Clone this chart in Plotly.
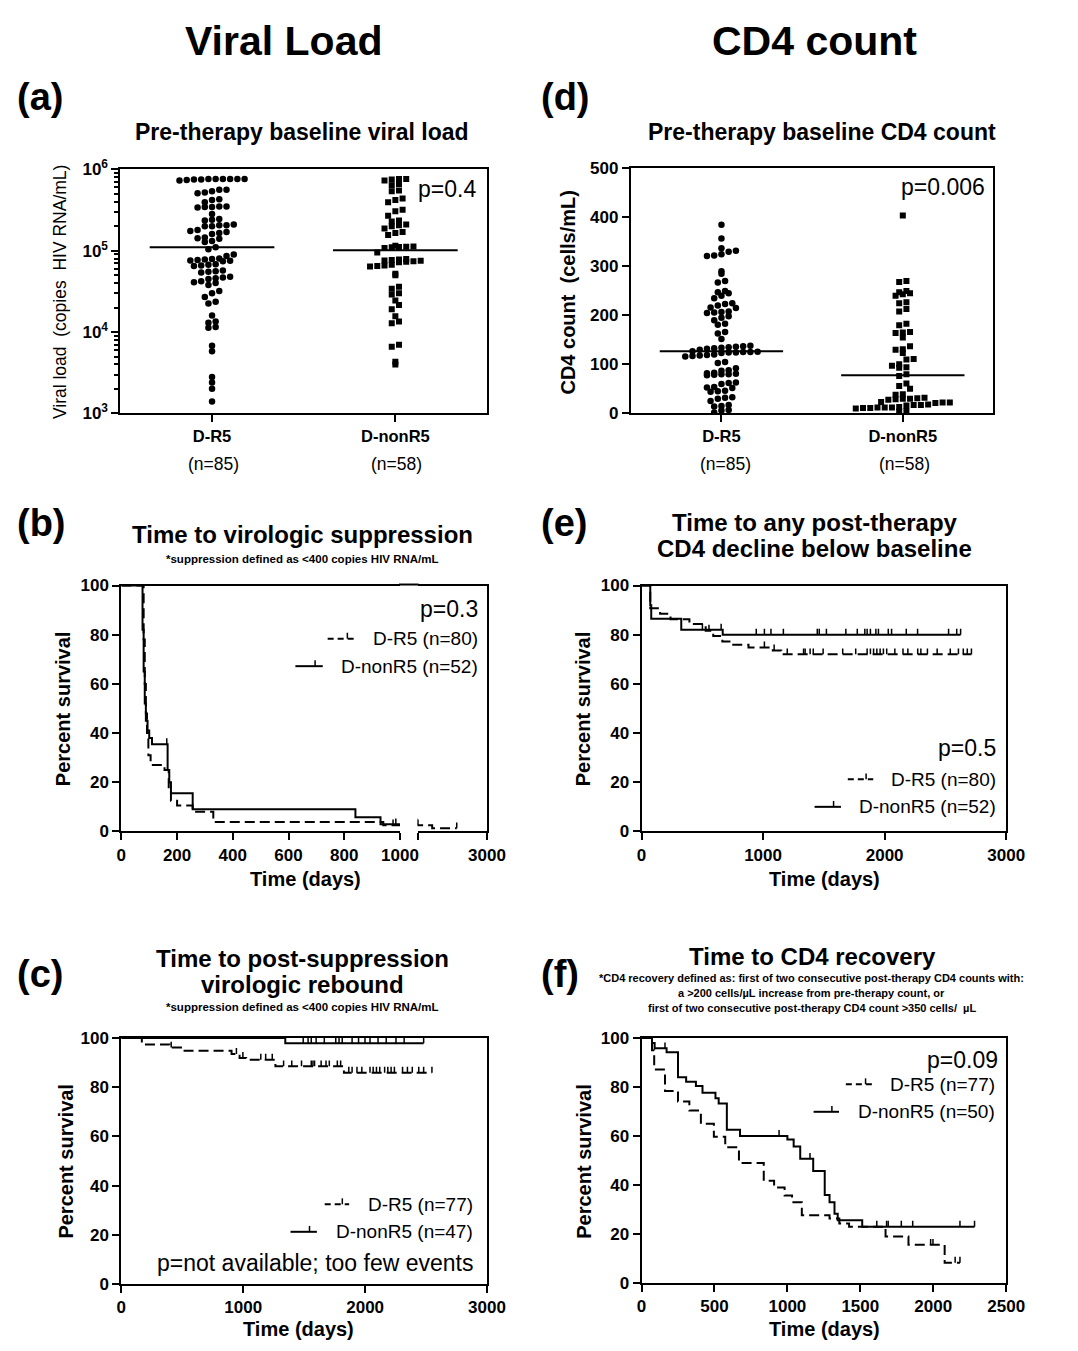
import numpy as np
import plotly.graph_objects as go

W, H = 1078, 1351          # page size (body margin removed in the page script)
FONT = "Liberation Sans, Arial, Helvetica, sans-serif"

# ---------------- data ----------------
categories = ["D-R5", "D-nonR5"]
n_labels = ["(n=85)", "(n=58)"]

viral_load_r5 = [760000, 760000, 760000, 750000, 740000, 730000, 750000, 760000, 760000, 760000,
                 560000, 540000, 520000, 510000, 560000, 430000, 420000, 395000,
                 350000, 345000, 340000, 345000, 350000, 283000, 245000, 235000, 240000,
                 205000, 200000, 205000, 200000, 210000, 180000, 175000, 170000, 165000, 160000,
                 145000, 140000, 142000, 132000, 128000,
                 110000, 104000, 90000, 86000, 80000, 78000, 76000, 75000, 77000, 79000, 74000,
                 68000, 66000, 65000, 67000, 57000, 55000, 56000, 54000, 48000, 46000, 47000, 45000,
                 42000, 40000, 41000, 38000, 32000, 30000, 27000, 23500, 22500, 16000, 13500, 13000,
                 11500, 11300, 6800, 5800, 2800, 2400, 2000, 1400]
viral_load_nr5 = [760000, 760000, 730000, 750000, 660000, 640000, 550000, 540000, 440000, 420000,
                  395000, 320000, 305000, 270000, 235000, 228000, 210000, 205000, 200000, 188000,
                  156000, 170000, 165000, 115000, 112000, 110000, 113000, 108000, 111000,
                  95000, 78000, 76000, 74000, 77000, 75000, 72000, 79000, 73000,
                  66000, 65000, 67000, 64000, 52000, 50000, 36000, 34000, 30000, 29000, 24500,
                  21500, 19000, 15600, 13500, 12800, 7000, 6600, 4300, 4000]
cd4_r5 = [385, 357, 337, 330, 322, 321, 325, 332, 290, 285, 270, 267, 247, 240, 245, 250, 235,
          225, 220, 215, 216, 223, 207, 206, 208, 205, 198, 195, 190, 183, 181, 166, 163, 152,
          137, 135, 133, 136, 134, 130, 132, 138,
          127, 125, 124, 126, 123, 125, 124, 119, 117, 118, 116, 120, 105, 103, 92, 88, 87,
          82, 80, 79, 81, 78, 80, 83, 62, 60, 63, 53, 54, 52, 45, 46, 44, 32, 33, 30, 25,
          15, 14, 17, 7, 6, 2]
cd4_nr5 = [404, 270, 268, 245, 247, 250, 243, 240, 227, 225, 213, 208, 183, 180, 165, 166, 164,
           155, 130, 131, 137, 123, 110, 111, 100, 97, 93, 94, 80,
           76, 61, 56, 50, 39, 38, 31, 30, 29, 30, 32, 28, 23, 22, 21, 22, 17, 18, 16, 17,
           12, 11, 13, 12, 10, 12, 11, 5, 4]
p_vl = "p=0.4"
p_cd4 = "p=0.006"

# Kaplan-Meier curves: step times, survival (%) after each step, censor times
b_r5_time = [0, 80, 84, 88, 92, 97, 105, 155, 170, 178, 200, 256, 330, 940, 1420, 2127]
b_r5_surv = [100, 78, 60, 48, 40, 31, 27, 25, 18, 12.5, 10.5, 8, 3.8, 2.5, 1.25, 1.25]
b_r5_cens = [975, 1010, 2127]
b_nr5_time = [0, 76, 80, 84, 88, 94, 100, 110, 166, 172, 178, 256, 840, 930, 1000]
b_nr5_surv = [100, 82, 65, 52, 45, 41, 38, 35.5, 25, 20, 15.5, 9, 5.8, 2.9, 2.9]
b_nr5_cens = [163, 985]

e_r5_time = [0, 72, 153, 239, 394, 528, 590, 665, 740, 880, 1080, 1150, 2714]
e_r5_surv = [100, 90.8, 88.5, 86.3, 84.3, 81.6, 79.5, 77.2, 75.9, 74.8, 73.6, 72, 72]
e_r5_cens = [555, 1011, 1091, 1199, 1333, 1346, 1387, 1413, 1494, 1655, 1762, 1856, 1883, 1909,
             1936, 1963, 1990, 2017, 2084, 2151, 2191, 2272, 2298, 2352, 2432, 2540, 2607, 2647,
             2680, 2714]
e_nr5_time = [0, 72, 80, 327, 668, 2625]
e_nr5_surv = [100, 92, 86.5, 82, 80, 80]
e_nr5_cens = [501, 655, 944, 1011, 1065, 1167, 1446, 1462, 1521, 1681, 1775, 1837, 1856, 1883,
              1928, 1949, 2030, 2057, 2178, 2271, 2526, 2593, 2625]

c_r5_time = [0, 168, 396, 489, 904, 970, 1024, 1264, 1826, 2548]
c_r5_surv = [100, 97.4, 96.1, 94.8, 93.5, 91.9, 91.2, 88.5, 85.9, 85.9]
c_r5_cens = [409, 944, 997, 1144, 1184, 1238, 1331, 1398, 1478, 1558, 1572, 1585, 1639, 1679,
             1706, 1772, 1799, 1866, 1893, 1933, 1973, 2040, 2066, 2093, 2120, 2160, 2186, 2213,
             2240, 2307, 2347, 2387, 2440, 2480, 2548]
c_nr5_time = [0, 1345, 2480]
c_nr5_surv = [100, 97.9, 97.9]
c_nr5_cens = [329, 583, 783, 802, 913, 992, 1072, 1270, 1281, 1291, 1492, 1532, 1558, 1598, 1665,
              1759, 1786, 1812, 1893, 1946, 1999, 2040, 2106, 2173, 2253, 2320, 2480]

f_r5_time = [0, 72, 87, 161, 250, 328, 407, 496, 574, 668, 838, 909, 981, 1032, 1099, 1289, 1356,
             1423, 1673, 1830, 2078, 2183]
f_r5_surv = [100, 95, 87.1, 78.4, 74.1, 70.4, 65.0, 59.7, 55.4, 49.0, 41.7, 39.0, 35.7, 33.0,
             27.6, 26.3, 24.3, 23.0, 19.0, 15.6, 8.3, 8.3]
f_r5_cens = [1982, 1998, 2150, 2183]
f_nr5_time = [0, 72, 90, 172, 250, 306, 373, 418, 507, 529, 585, 675, 1000, 1043, 1088, 1177, 1256,
              1289, 1323, 1345, 1513, 2283]
f_nr5_surv = [100, 98, 95.8, 94.2, 84.0, 82.1, 80.4, 77.7, 75.4, 73.3, 62.6, 60.0, 58.6, 55.7,
              50.7, 45.7, 35.9, 33.0, 28.3, 25.6, 23.0, 23.0]
f_nr5_cens = [161, 943, 1155, 1613, 1680, 1691, 1781, 1859, 2183, 2283]

legend_b = ["D-R5 (n=80)", "D-nonR5 (n=52)"]
legend_e = ["D-R5 (n=80)", "D-nonR5 (n=52)"]
legend_c = ["D-R5 (n=77)", "D-nonR5 (n=47)"]
legend_f = ["D-R5 (n=77)", "D-nonR5 (n=50)"]
p_b, p_e, p_c, p_f = "p=0.3", "p=0.5", "p=not available; too few events", "p=0.09"


# ---------------- helpers (page pixel -> paper fraction) ----------------
def fx(px):
    return px / W


def fy(py):
    return 1 - py / H


def rows_layout(values, to_px, d):
    """GraphPad-like scatter layout: values grouped in rows, spread horizontally (pixels)."""
    vals = np.asarray(values, dtype=float)
    ypx = np.array([to_px(v) for v in vals])
    bins = np.round(ypx / d).astype(int)
    offs = np.zeros(len(vals))
    for b in np.unique(bins):
        idx = np.where(bins == b)[0]
        idx = idx[np.argsort(vals[idx], kind="stable")]
        n = len(idx)
        for k, i in enumerate(idx):
            offs[i] = (k - (n - 1) / 2) * d
    return offs


fig = go.Figure()


# ---------------- dot plots ----------------
def dot_panel(xa, ya, data, symbols, to_px, px_per_unit):
    for i, (vals, sym) in enumerate(zip(data, symbols)):
        off = rows_layout(vals, to_px, 7.4) / px_per_unit
        fig.add_trace(go.Scatter(x=i + off, y=vals, mode="markers", xaxis=xa, yaxis=ya,
                                 marker=dict(symbol=sym, size=6.5 if sym == "circle" else 6,
                                             color="black", line=dict(width=0)),
                                 showlegend=False, hoverinfo="skip"))
        med = float(np.median(vals))
        fig.add_trace(go.Scatter(x=[i - 0.34, i + 0.34], y=[med, med], mode="lines",
                                 xaxis=xa, yaxis=ya, line=dict(color="black", width=2),
                                 showlegend=False, hoverinfo="skip"))


dot_panel("x", "y", [viral_load_r5, viral_load_nr5], ["circle", "square"],
          lambda v: np.log10(v) * 248 / 3, 375 / 2)
dot_panel("x2", "y2", [cd4_r5, cd4_nr5], ["circle", "square"],
          lambda v: v * 249 / 500, 371 / 2)

# ---------------- KM curves ----------------
DASH = "10px,5px"


def km(t, s, cens, dash, xa, ya):
    fig.add_trace(go.Scatter(x=t, y=s, mode="lines", xaxis=xa, yaxis=ya,
                             line=dict(shape="hv", color="black", width=2, dash=dash),
                             showlegend=False, hoverinfo="skip"))
    ta, sa = np.asarray(t), np.asarray(s)
    cs = [float(sa[np.searchsorted(ta, c, side="right") - 1]) for c in cens]
    fig.add_trace(go.Scatter(x=cens, y=cs, mode="markers", xaxis=xa, yaxis=ya,
                             marker=dict(size=2, color="rgba(0,0,0,0)"),
                             error_y=dict(type="data", symmetric=False, array=[2.4] * len(cens),
                                          arrayminus=[0] * len(cens), color="black",
                                          thickness=1.5, width=0),
                             showlegend=False, hoverinfo="skip"))


for xa, ya in [("x3", "y3"), ("x7", "y7")]:
    km(b_r5_time, b_r5_surv, b_r5_cens, DASH, xa, ya)
    km(b_nr5_time, b_nr5_surv, b_nr5_cens, "solid", xa, ya)
km(e_r5_time, e_r5_surv, e_r5_cens, DASH, "x4", "y4")
km(e_nr5_time, e_nr5_surv, e_nr5_cens, "solid", "x4", "y4")
km(c_r5_time, c_r5_surv, c_r5_cens, DASH, "x5", "y5")
km(c_nr5_time, c_nr5_surv, c_nr5_cens, "solid", "x5", "y5")
km(f_r5_time, f_r5_surv, f_r5_cens, DASH, "x6", "y6")
km(f_nr5_time, f_nr5_surv, f_nr5_cens, "solid", "x6", "y6")

# ---------------- axes ----------------
TICKF = dict(family=FONT, size=17, color="black", weight="bold")
CATF = dict(family=FONT, size=16.5, color="black", weight="bold")


def base_axis(**kw):
    d = dict(showline=True, linecolor="black", linewidth=2, mirror=True, ticks="outside",
             ticklen=7, tickwidth=2, tickcolor="black", tickfont=TICKF, showgrid=False,
             zeroline=False, fixedrange=True)
    d.update(kw)
    return d


def dom_x(a, b):
    return [fx(a), fx(b)]


def dom_y(top, bottom):
    return [fy(bottom), fy(top)]


minor_log = [m * 10 ** e for e in (3, 4, 5) for m in range(2, 10)]
layout_axes = dict(
    xaxis=base_axis(domain=dom_x(118, 493), anchor="y", range=[-0.5, 1.5], tickvals=[0, 1],
                    ticktext=categories, tickfont=CATF),
    yaxis=base_axis(domain=dom_y(160, 408), anchor="x", type="log", range=[3, 6],
                    tickvals=[1e3, 1e4, 1e5, 1e6],
                    ticktext=["10<sup>3</sup>", "10<sup>4</sup>", "10<sup>5</sup>", "10<sup>6</sup>"],
                    minor=dict(tickvals=minor_log, ticks="outside", ticklen=4, tickwidth=1.5,
                               tickcolor="black", showgrid=False)),
    xaxis2=base_axis(domain=dom_x(640, 1011), anchor="y2", range=[-0.5, 1.5], tickvals=[0, 1],
                     ticktext=categories, tickfont=CATF),
    yaxis2=base_axis(domain=dom_y(159, 408), anchor="x2", range=[0, 500],
                     tickvals=[0, 100, 200, 300, 400, 500]),
    xaxis3=base_axis(domain=dom_x(119, 404), anchor="y3", range=[0, 1000],
                     tickvals=[0, 200, 400, 600, 800, 1000]),
    yaxis3=base_axis(domain=dom_y(583, 833), anchor="x3", range=[0, 100], mirror=False,
                     tickvals=[0, 20, 40, 60, 80, 100]),
    xaxis7=base_axis(domain=dom_x(422, 493), anchor="y7", range=[1000, 3000],
                     tickvals=[1000, 3000], ticktext=[" ", "3000"]),
    yaxis7=base_axis(domain=dom_y(583, 833), anchor="x7", range=[0, 100], side="right",
                     mirror=False, ticks="", showticklabels=False),
    xaxis4=base_axis(domain=dom_x(651, 1024), anchor="y4", range=[0, 3000],
                     tickvals=[0, 1000, 2000, 3000]),
    yaxis4=base_axis(domain=dom_y(583, 833), anchor="x4", range=[0, 100],
                     tickvals=[0, 20, 40, 60, 80, 100]),
    xaxis5=base_axis(domain=dom_x(119, 493), anchor="y5", range=[0, 3000],
                     tickvals=[0, 1000, 2000, 3000]),
    yaxis5=base_axis(domain=dom_y(1043, 1293), anchor="x5", range=[0, 100],
                     tickvals=[0, 20, 40, 60, 80, 100]),
    xaxis6=base_axis(domain=dom_x(651, 1024), anchor="y6", range=[0, 2500],
                     tickvals=[0, 500, 1000, 1500, 2000, 2500]),
    yaxis6=base_axis(domain=dom_y(1043, 1292), anchor="x6", range=[0, 100],
                     tickvals=[0, 20, 40, 60, 80, 100]),
)

# ---------------- text ----------------
ann = []


def txt(s, x, y, size, bold=False, xanchor="center", angle=0):
    ann.append(dict(text=s, x=fx(x), y=fy(y), xref="paper", yref="paper", showarrow=False,
                    xanchor=xanchor, yanchor="middle", textangle=angle,
                    font=dict(family=FONT, size=size, color="black",
                              weight="bold" if bold else "normal")))


txt("Viral Load", 285, 29, 41, True)
txt("CD4 count", 828, 29, 41, True)
for lab, x, y in [("(a)", 10, 86), ("(d)", 546, 86), ("(b)", 10, 519), ("(e)", 546, 519),
                  ("(c)", 10, 978), ("(f)", 546, 978)]:
    txt(lab, x, y, 38, True, "left")

txt("Pre-therapy baseline viral load", 304, 122, 23, True)
txt("Pre-therapy baseline CD4 count", 836, 122, 23, True)
txt("Time to virologic suppression", 304, 531, 24, True)
txt("*suppression defined as <400 copies HIV RNA/mL", 304, 556, 11.5, True)
txt("Time to any post-therapy", 828, 519, 24, True)
txt("CD4 decline below baseline", 828, 545, 24, True)
txt("Time to post-suppression", 304, 962, 24, True)
txt("virologic rebound", 304, 989, 24, True)
txt("*suppression defined as <400 copies HIV RNA/mL", 304, 1011, 11.5, True)
txt("Time to CD4 recovery", 826, 960, 24, True)
txt("*CD4 recovery defined as: first of two consecutive post-therapy CD4 counts with:", 825, 982, 11, True)
txt("a >200 cells/\u00b5L increase from pre-therapy count, or", 825, 997, 11, True)
txt("first of two consecutive post-therapy CD4 count >350 cells/\u00a0 \u00b5L", 825, 1012, 11, True)

txt("Viral load\u00a0 (copies\u00a0 HIV RNA/mL)", 57, 284, 17.5, False, angle=-90)
txt("CD4 count\u00a0 (cells/mL)", 576, 285, 20, True, angle=-90)
for x, y in [(60, 708), (592, 708), (62, 1168), (592, 1168)]:
    txt("Percent survival", x, y, 20, True, angle=-90)
for x, y in [(307, 881), (838, 881), (300, 1339), (838, 1339)]:
    txt("Time (days)", x, y, 20, True)

for x, lab in zip([213, 400], n_labels):
    txt(lab, x, 459, 17.5)
for x, lab in zip([737, 920], n_labels):
    txt(lab, x, 459, 17.5)

txt(p_vl, 484, 180, 23, xanchor="right")
txt(p_cd4, 1004, 178, 23, xanchor="right")
txt(p_b, 486, 607, 23, xanchor="right")
txt(p_e, 1016, 748, 23, xanchor="right")
txt(p_c, 481, 1272, 23, xanchor="right")
txt(p_f, 1018, 1065, 23, xanchor="right")

shapes = []
# continuous top border of the broken-axis panel (b)
shapes.append(dict(type="line", xref="paper", yref="paper", x0=fx(403), x1=fx(423),
                   y0=fy(582), y1=fy(582), line=dict(color="black", width=2)))


def legend(labels, right, y1, y2, dseg, sseg):
    txt(labels[0], right, y1, 19, xanchor="right")
    txt(labels[1], right, y2, 19, xanchor="right")
    for (a, b), y, dash in [(dseg, y1, "6px,4px"), (sseg, y2, "solid")]:
        shapes.append(dict(type="line", xref="paper", yref="paper", x0=fx(a), x1=fx(b),
                           y0=fy(y), y1=fy(y), line=dict(color="black", width=2, dash=dash)))
        tx = a + 0.72 * (b - a)
        shapes.append(dict(type="line", xref="paper", yref="paper", x0=fx(tx), x1=fx(tx),
                           y0=fy(y), y1=fy(y - 6), line=dict(color="black", width=1.5)))


legend(legend_b, 486, 637, 665, (330, 358), (297, 325))
legend(legend_e, 1016, 780, 808, (862, 888), (828, 855))
legend(legend_c, 481, 1212, 1240, (327, 352), (292, 319))
legend(legend_f, 1015, 1090, 1118, (860, 888), (827, 853))

fig.update_layout(width=W, height=H, margin=dict(l=0, r=0, t=0, b=0), autosize=False,
                  paper_bgcolor="white", plot_bgcolor="white", showlegend=False,
                  annotations=ann, shapes=shapes, **layout_axes)

fig.write_html("out.html", config={"displayModeBar": False},
               post_script="document.body.style.margin='0';document.body.style.overflow='hidden';")
